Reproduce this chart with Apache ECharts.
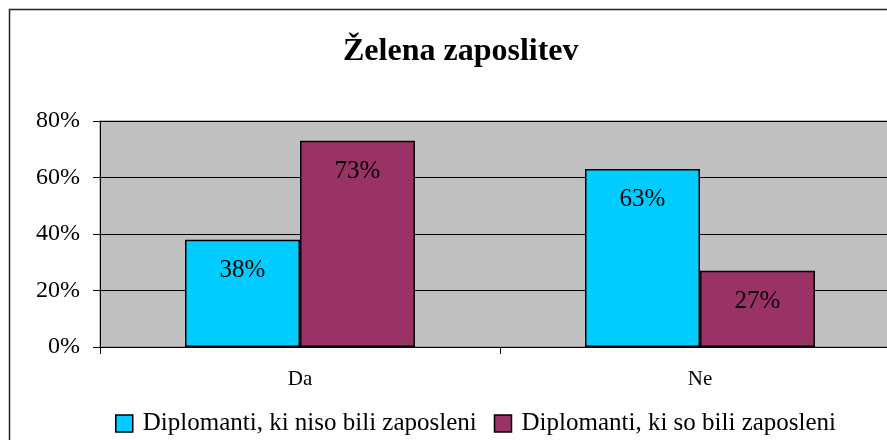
<!DOCTYPE html>
<html>
<head>
<meta charset="utf-8">
<script src="https://cdn.jsdelivr.net/npm/echarts@6/dist/echarts.min.js"></script>
<style>
  html, body { margin: 0; padding: 0; background: #fff; overflow: hidden; }
  #chart { width: 887px; height: 440px; }
</style>
</head>
<body>
<div id="chart"></div>
<script>
// Survey answers: did graduates want employment?
const categories = ['Da', 'Ne'];
const seriesNames = ['Diplomanti, ki niso bili zaposleni', 'Diplomanti, ki so bili zaposleni'];
const notEmployed = [38, 63];
const employed = [73, 27];
const yTicks = { min: 0, max: 80, step: 20 };

const serif = '"Liberation Serif", "Times New Roman", serif';

const chart = echarts.init(document.getElementById('chart'), null, { renderer: 'canvas' });

const barLabel = {
  show: true,
  position: 'insideTop',
  distance: 18,
  formatter: '{c}%',
  fontFamily: serif,
  fontSize: 25,
  color: '#000'
};

// Outer chart frame: left and top edges (the rest runs past the page)
const frameStyle = { stroke: '#222', lineWidth: 1.5 };

chart.setOption({
  animation: false,
  backgroundColor: '#fff',
  title: {
    text: 'Želena zaposlitev',
    left: 338,
    top: 31,
    textStyle: { fontFamily: serif, fontSize: 32, fontWeight: 'bold', color: '#000' }
  },
  graphic: [
    { type: 'line', shape: { x1: 9.5, y1: 9, x2: 9.5, y2: 440 }, style: frameStyle, silent: true },
    { type: 'line', shape: { x1: 9, y1: 9.5, x2: 887, y2: 9.5 }, style: frameStyle, silent: true }
  ],
  legend: {
    left: 110,
    top: 406,
    itemWidth: 17,
    itemHeight: 17,
    itemGap: 17,
    icon: 'rect',
    textStyle: { fontFamily: serif, fontSize: 25, color: '#000', padding: [0, 0, 0, 5] },
    itemStyle: { borderColor: '#000', borderWidth: 1.5 }
  },
  grid: {
    left: 100,
    top: 121,
    width: 800,
    height: 226,
    outerBoundsMode: 'none',
    containLabel: false,
    show: true,
    backgroundColor: '#C0C0C0',
    borderColor: '#808080',
    borderWidth: 1
  },
  xAxis: {
    type: 'category',
    data: categories,
    axisLine: { lineStyle: { color: '#000', width: 1 } },
    axisTick: { show: true, length: 7, lineStyle: { color: '#000' } },
    axisLabel: { fontFamily: serif, fontSize: 21, color: '#000', margin: 22 }
  },
  yAxis: {
    type: 'value',
    min: yTicks.min,
    max: yTicks.max,
    interval: yTicks.step,
    axisLine: { show: true, lineStyle: { color: '#000', width: 1 } },
    axisTick: { show: true, length: 7, lineStyle: { color: '#000' } },
    axisLabel: { formatter: '{value}%', fontFamily: serif, fontSize: 24, color: '#000', margin: 20 },
    splitLine: { show: true, lineStyle: { color: '#000', width: 1 } }
  },
  series: [
    {
      name: seriesNames[0],
      type: 'bar',
      data: notEmployed,
      barGap: '0%',
      barCategoryGap: '42.5%',
      itemStyle: { color: '#00CCFF', borderColor: '#000', borderWidth: 1.5 },
      label: barLabel
    },
    {
      name: seriesNames[1],
      type: 'bar',
      data: employed,
      barGap: '0%',
      barCategoryGap: '42.5%',
      itemStyle: { color: '#993366', borderColor: '#000', borderWidth: 1.5 },
      label: barLabel
    }
  ]
});
</script>
</body>
</html>
